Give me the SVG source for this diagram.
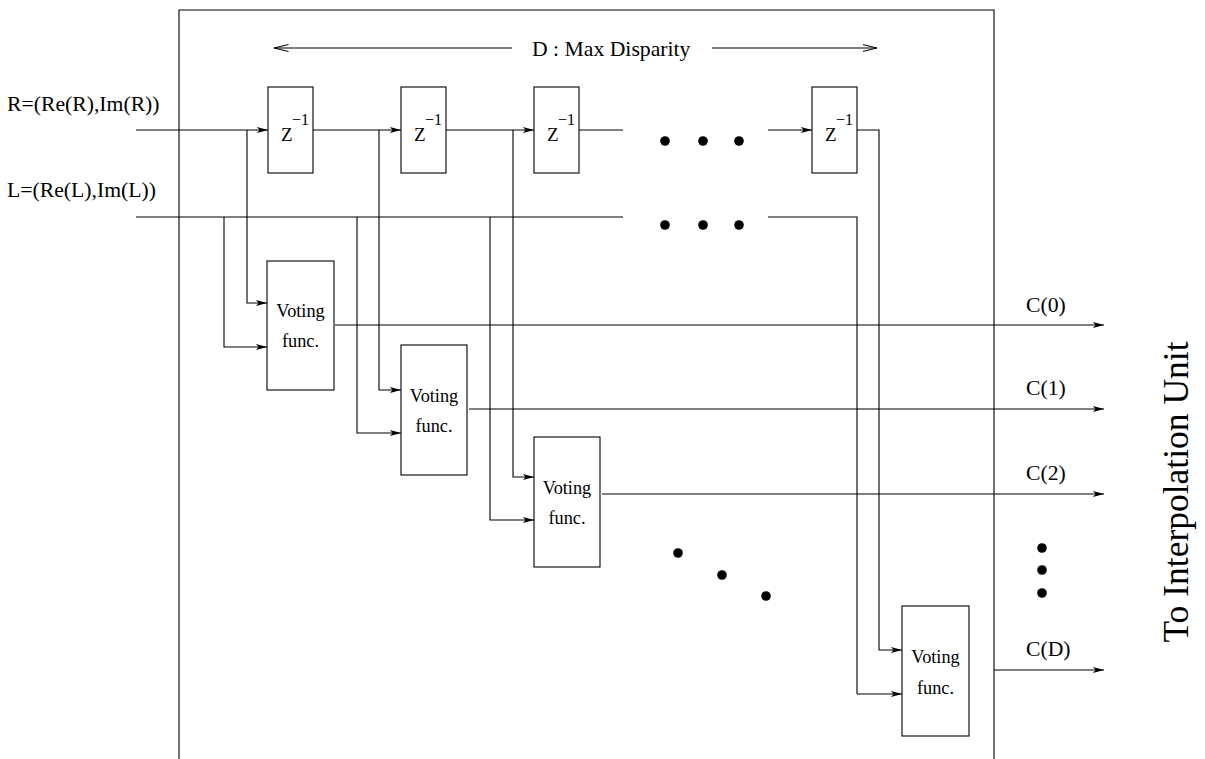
<svg xmlns="http://www.w3.org/2000/svg" width="1205" height="759" viewBox="0 0 1205 759">
  <style>
    .ln { fill: none; stroke: #000; stroke-width: 1.1; }
    .box { fill: #fff; stroke: #000; stroke-width: 1.1; }
    .t { font-family: "Liberation Serif", "Times New Roman", serif; fill: #000; }
    .lbl { font-size: 21.7px; }
    .vt { font-size: 18.3px; text-anchor: middle; }
    .z { font-size: 19px; }
    .sup { font-size: 16px; }
    .dot { fill: #000; }
    .arr { marker-end: url(#dart); }
  </style>
  <defs>
    <marker id="dart" viewBox="0 0 11 6" refX="11" refY="3" markerWidth="11" markerHeight="6" markerUnits="userSpaceOnUse" orient="auto">
      <path d="M0,0 L11,3 L0,6 L2.5,3 z" fill="#000"/>
    </marker>
    <marker id="open" viewBox="0 0 15 8" refX="14.5" refY="4" markerWidth="15" markerHeight="8" markerUnits="userSpaceOnUse" orient="auto-start-reverse">
      <path d="M0,0.5 L14.5,4 L0,7.5" fill="none" stroke="#000" stroke-width="1"/>
    </marker>
  </defs>

  <!-- enclosing frame, open at the bottom -->
  <path id="frame" class="ln" d="M179,759 V10 H994 V759"/>

  <!-- span indicator -->
  <g id="span">
    <line class="ln" x1="274" y1="48" x2="512" y2="48" marker-start="url(#open)"/>
    <line class="ln" x1="712" y1="48" x2="877" y2="48" marker-end="url(#open)"/>
    <text class="t lbl" x="532" y="56">D : Max Disparity</text>
  </g>

  <!-- input labels -->
  <g id="inputs">
    <text class="t lbl" x="7" y="111">R=(Re(R),Im(R))</text>
    <text class="t lbl" x="7" y="197">L=(Re(L),Im(L))</text>
  </g>

  <g id="connectors">
    <!-- R delay chain -->
    <line class="ln arr" x1="136" y1="130" x2="268" y2="130"/>
    <line class="ln arr" x1="313" y1="130" x2="401" y2="130"/>
    <line class="ln arr" x1="446" y1="130" x2="534" y2="130"/>
    <line class="ln" x1="579" y1="130" x2="623" y2="130"/>
    <line class="ln arr" x1="768" y1="130" x2="812" y2="130"/>
    <!-- L bus -->
    <line class="ln" x1="136" y1="217" x2="623" y2="217"/>
    <path class="ln" d="M768,217 H857 V694"/>
    <path class="ln arr" d="M857,694 H902"/>
    <!-- last delay output -->
    <path class="ln arr" d="M857,130 H879 V650 H902"/>

    <!-- taps into voting 0 -->
    <path class="ln arr" d="M247,130 V303 H267"/>
    <path class="ln arr" d="M224,217 V347 H267"/>
    <!-- taps into voting 1 -->
    <path class="ln arr" d="M379,130 V390 H401"/>
    <path class="ln arr" d="M357,217 V433 H401"/>
    <!-- taps into voting 2 -->
    <path class="ln arr" d="M513,130 V477 H534"/>
    <path class="ln arr" d="M490,217 V520 H534"/>

    <!-- outputs -->
    <line class="ln arr" x1="335" y1="325" x2="1104" y2="325"/>
    <line class="ln arr" x1="469" y1="409" x2="1104" y2="409"/>
    <line class="ln arr" x1="602" y1="494" x2="1104" y2="494"/>
    <line class="ln arr" x1="994" y1="670" x2="1104" y2="670"/>
  </g>

  <!-- delay elements -->
  <g id="delay0">
    <rect class="box" x="268" y="87" width="45" height="86"/>
    <text class="t z" x="281" y="141">Z</text>
    <text class="t sup" x="292" y="125">−1</text>
  </g>
  <g id="delay1">
    <rect class="box" x="401" y="87" width="45" height="86"/>
    <text class="t z" x="414" y="141">Z</text>
    <text class="t sup" x="425" y="125">−1</text>
  </g>
  <g id="delay2">
    <rect class="box" x="534" y="87" width="45" height="86"/>
    <text class="t z" x="547" y="141">Z</text>
    <text class="t sup" x="558" y="125">−1</text>
  </g>
  <g id="delayD">
    <rect class="box" x="812" y="87" width="45" height="86"/>
    <text class="t z" x="825" y="141">Z</text>
    <text class="t sup" x="836" y="125">−1</text>
  </g>

  <!-- voting functions -->
  <g id="vote0">
    <rect class="box" x="267" y="261" width="67" height="129"/>
    <text class="t vt" x="300.5" y="317">Voting</text>
    <text class="t vt" x="300.5" y="347">func.</text>
  </g>
  <g id="vote1">
    <rect class="box" x="401" y="345" width="66" height="130"/>
    <text class="t vt" x="434" y="402">Voting</text>
    <text class="t vt" x="434" y="432">func.</text>
  </g>
  <g id="vote2">
    <rect class="box" x="534" y="437" width="66" height="130"/>
    <text class="t vt" x="567" y="494">Voting</text>
    <text class="t vt" x="567" y="524">func.</text>
  </g>
  <g id="voteD">
    <rect class="box" x="902" y="606" width="67" height="130"/>
    <text class="t vt" x="935.5" y="663">Voting</text>
    <text class="t vt" x="935.5" y="694">func.</text>
  </g>

  <!-- output labels -->
  <g id="outlabels">
    <text class="t lbl" x="1026" y="312">C(0)</text>
    <text class="t lbl" x="1026" y="395">C(1)</text>
    <text class="t lbl" x="1026" y="480">C(2)</text>
    <text class="t lbl" x="1026" y="656">C(D)</text>
    <text class="t" font-size="35.5" x="1188" y="492" text-anchor="middle" transform="rotate(-90 1188 492)">To Interpolation Unit</text>
  </g>

  <!-- ellipsis marks -->
  <g id="ellipses">
    <circle class="dot" cx="665" cy="141" r="4.8"/>
    <circle class="dot" cx="703" cy="141" r="4.8"/>
    <circle class="dot" cx="739" cy="141" r="4.8"/>
    <circle class="dot" cx="665" cy="225" r="4.8"/>
    <circle class="dot" cx="703" cy="225" r="4.8"/>
    <circle class="dot" cx="739" cy="225" r="4.8"/>
    <circle class="dot" cx="678" cy="553" r="4.8"/>
    <circle class="dot" cx="722" cy="575" r="4.8"/>
    <circle class="dot" cx="766" cy="596" r="4.8"/>
    <circle class="dot" cx="1042" cy="548" r="4.8"/>
    <circle class="dot" cx="1042" cy="570" r="4.8"/>
    <circle class="dot" cx="1042" cy="593" r="4.8"/>
  </g>
</svg>
